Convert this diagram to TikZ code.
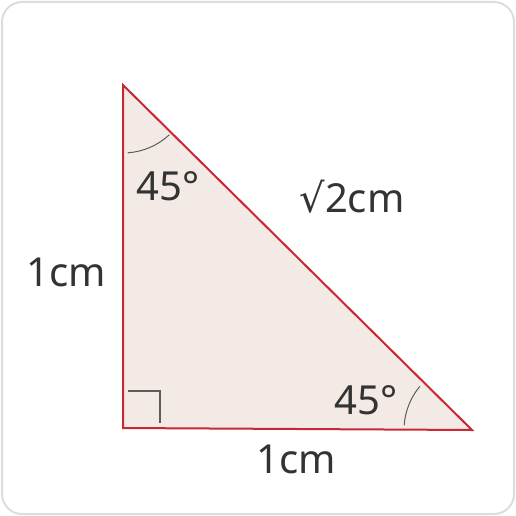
\documentclass[tikz,border=0pt]{standalone}
\usepackage{fontspec}
\setmainfont{Noto Sans}
\newfontfamily\symfont{DejaVu Sans}
\definecolor{edge}{RGB}{200,40,52}
\definecolor{face}{RGB}{243,234,230}
\definecolor{ink}{RGB}{51,51,51}
\definecolor{frame}{RGB}{221,221,221}

\begin{document}
\begin{tikzpicture}[x=1pt, y=-1pt, font=\fontsize{40}{40}\selectfont, every node/.style={text=ink}]
  \useasboundingbox (0,0) rectangle (516,516);
  \draw[frame, line width=2, rounded corners=20] (2,2) rectangle (514,514);
  \coordinate (A) at (123,85);
  \coordinate (B) at (123,428);
  \coordinate (C) at (472,430);
  \draw[edge, fill=face, line width=2, line join=miter] (A) -- (B) -- (C) -- cycle;
  % angle marks
  \draw[ink!80, line width=1] ([shift={(86:68)}]A) arc[start angle=86, end angle=47, radius=68];
  \draw[ink!80, line width=1] ([shift={(220:68)}]C) arc[start angle=220, end angle=184, radius=68];
  \draw[ink!80, line width=1.5] (128,391) -- (160,391) -- (160,423);
  % labels
  \node (topangle) at (168,186) {45°};
  \node (hyp) at (352,197) {{\symfont√}2cm};
  \node (left) at (66,272) {1cm};
  \node (rightangle) at (366,400) {45°};
  \node (bottom) at (296,459) {1cm};
\end{tikzpicture}
\end{document}
